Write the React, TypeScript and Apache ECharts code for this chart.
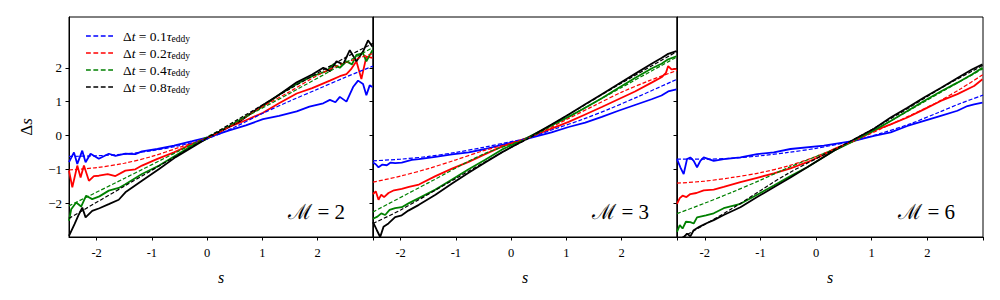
import React, { useEffect, useRef } from "react";
import * as echarts from "echarts";

// ---------- tick values ----------
const X_TICKS = [-2, -1, 0, 1, 2, 3];
const X_LABELS = [-2, -1, 0, 1, 2];
const Y_TICKS = [-2, -1, 0, 1, 2];
const PANEL_LABELS = ["ℳ = 2", "ℳ = 3", "ℳ = 6"];
const DT_NAMES = ["0.1", "0.2", "0.4", "0.8"];
const COLORS = ["#0000ff", "#ff0000", "#008000", "#000000"];

// ---------- panel 1 (M = 2): measured (solid) and theory (dashed) ----------
const m2Blue = [[-2.5,-0.79],[-2.41,-0.5],[-2.35,-0.84],[-2.26,-0.45],[-2.2,-0.79],[-2.11,-0.54],[-1.96,-0.69],[-1.78,-0.54],[-1.66,-0.6],[-1.48,-0.54],[-1.3,-0.55],[-1.18,-0.47],[-0.9,-0.4],[-0.6,-0.3],[-0.27,-0.17],[0.03,-0.05],[0.4,0.15],[0.7,0.3],[1.01,0.48],[1.3,0.58],[1.62,0.71],[1.85,0.85],[2.1,0.95],[2.22,1.05],[2.32,0.98],[2.4,1.14],[2.52,1.0],[2.64,1.43],[2.73,1.62],[2.82,1.52],[2.88,1.19],[2.94,1.48],[2.99,1.43]];
const m2BlueTh = [[-2.5,-0.62],[-2,-0.6],[-1.5,-0.55],[-1,-0.45],[-0.5,-0.3],[0,-0.1],[0.5,0.25],[1,0.65],[1.5,1.02],[2,1.37],[2.5,1.72],[3,2.05]];
const m2Red = [[-2.5,-1.04],[-2.44,-1.53],[-2.35,-0.89],[-2.29,-1.24],[-2.23,-0.89],[-2.14,-1.34],[-2.05,-1.2],[-1.96,-1.19],[-1.8,-1.14],[-1.66,-1.2],[-1.48,-1.04],[-1.3,-1.0],[-1.18,-0.89],[-0.9,-0.69],[-0.6,-0.5],[-0.27,-0.25],[0.03,-0.05],[0.4,0.25],[0.7,0.45],[1.01,0.67],[1.3,0.95],[1.62,1.24],[1.9,1.4],[2.22,1.62],[2.4,1.75],[2.52,1.81],[2.6,1.95],[2.7,2.19],[2.79,1.67],[2.88,2.33],[2.99,2.29]];
const m2RedTh = [[-2.5,-1.02],[-2,-0.95],[-1.5,-0.82],[-1,-0.62],[-0.5,-0.35],[0,-0.08],[0.5,0.35],[1,0.85],[1.5,1.3],[2,1.78],[2.5,2.15],[3,2.42]];
const m2Green = [[-2.5,-2.52],[-2.46,-2.18],[-2.37,-1.98],[-2.28,-2.1],[-2.19,-1.78],[-2.08,-1.88],[-1.95,-1.8],[-1.78,-1.63],[-1.6,-1.55],[-1.48,-1.44],[-1.18,-1.14],[-0.87,-0.89],[-0.57,-0.59],[-0.27,-0.3],[0.03,-0.07],[0.4,0.27],[0.7,0.57],[1.01,0.86],[1.3,1.2],[1.62,1.52],[1.9,1.75],[2.16,1.9],[2.28,2.1],[2.4,2.0],[2.52,2.19],[2.62,2.1],[2.7,2.38],[2.82,2.43],[2.88,2.19],[2.99,2.52]];
const m2GreenTh = [[-2.5,-2.08],[-1.5,-1.27],[-0.5,-0.45],[0.5,0.38],[1.5,1.25],[2.5,2.15],[3,2.6]];
const m2Black = [[-2.5,-2.97],[-2.4,-2.62],[-2.33,-2.36],[-2.26,-2.13],[-2.2,-2.42],[-2.08,-2.23],[-1.95,-2.15],[-1.78,-2.03],[-1.6,-1.9],[-1.48,-1.68],[-1.18,-1.34],[-0.87,-0.99],[-0.57,-0.64],[-0.27,-0.35],[0.03,-0.05],[0.59,0.42],[1.01,0.9],[1.3,1.2],[1.62,1.57],[1.9,1.8],[2.1,2.0],[2.22,1.9],[2.34,2.19],[2.46,2.1],[2.58,2.52],[2.7,2.19],[2.82,2.48],[2.91,2.81],[2.99,2.62]];
const m2BlackTh = [[-2.5,-2.45],[-1.5,-1.5],[-0.5,-0.55],[0.5,0.42],[1.5,1.38],[2.5,2.3],[3,2.72]];

// ---------- panel 2 (M = 3) ----------
const m3Blue = [[-2.5,-0.8],[-2.45,-0.85],[-2.4,-0.94],[-2.33,-0.86],[-2.25,-0.88],[-2.18,-0.8],[-2.1,-0.82],[-1.98,-0.8],[-1.8,-0.72],[-1.67,-0.7],[-1.37,-0.63],[-1.07,-0.56],[-0.77,-0.5],[-0.47,-0.4],[-0.17,-0.28],[0.28,-0.1],[0.73,0.09],[1.04,0.25],[1.34,0.38],[1.64,0.55],[1.94,0.73],[2.24,0.9],[2.54,1.07],[2.72,1.18],[2.84,1.3],[2.99,1.36]];
const m3BlueTh = [[-2.5,-0.75],[-2,-0.7],[-1.5,-0.62],[-1,-0.5],[-0.5,-0.35],[0,-0.18],[0.3,-0.08],[0.8,0.2],[1.3,0.48],[1.8,0.8],[2.3,1.15],[3,1.66]];
const m3Red = [[-2.5,-1.73],[-2.45,-1.65],[-2.4,-1.9],[-2.35,-1.75],[-2.3,-1.82],[-2.22,-1.7],[-2.12,-1.62],[-1.98,-1.58],[-1.85,-1.52],[-1.67,-1.45],[-1.37,-1.2],[-1.07,-0.98],[-0.77,-0.78],[-0.47,-0.55],[-0.17,-0.33],[0.28,-0.08],[0.73,0.2],[1.04,0.4],[1.34,0.62],[1.64,0.84],[1.94,1.07],[2.24,1.3],[2.54,1.56],[2.72,1.72],[2.8,1.85],[2.84,2.05],[2.9,1.95],[2.99,1.97]];
const m3RedTh = [[-2.5,-1.38],[-2,-1.2],[-1.5,-0.98],[-1,-0.72],[-0.5,-0.45],[0.3,-0.08],[1,0.47],[1.5,0.88],[2,1.28],[2.5,1.62],[3,1.92]];
const m3Green = [[-2.5,-2.46],[-2.42,-2.4],[-2.35,-2.3],[-2.28,-2.35],[-2.2,-2.2],[-2.1,-2.15],[-1.98,-2.12],[-1.85,-2.0],[-1.67,-1.85],[-1.37,-1.6],[-1.07,-1.3],[-0.77,-1.0],[-0.47,-0.72],[-0.17,-0.42],[0.28,-0.08],[0.73,0.3],[1.04,0.55],[1.34,0.82],[1.64,1.1],[1.94,1.4],[2.24,1.7],[2.54,1.98],[2.72,2.12],[2.84,2.25],[2.99,2.34]];
const m3GreenTh = [[-2.5,-2.26],[-1.5,-1.4],[-0.5,-0.55],[0.3,-0.08],[1,0.52],[2,1.42],[3,2.32]];
const m3Black = [[-2.5,-2.56],[-2.43,-2.8],[-2.37,-3.0],[-2.31,-2.7],[-2.22,-2.6],[-2.1,-2.41],[-1.98,-2.36],[-1.86,-2.22],[-1.67,-2.05],[-1.37,-1.75],[-1.07,-1.42],[-0.77,-1.1],[-0.47,-0.8],[-0.17,-0.5],[0.28,-0.1],[0.73,0.32],[1.04,0.62],[1.34,0.92],[1.64,1.22],[1.94,1.52],[2.24,1.82],[2.54,2.12],[2.72,2.29],[2.84,2.41],[2.99,2.49]];
const m3BlackTh = [[-2.5,-2.6],[-2,-2.2],[-1,-1.27],[0,-0.35],[0.3,-0.1],[1,0.58],[2,1.55],[3,2.48]];

// ---------- panel 3 (M = 6) ----------
const m6Blue = [[-2.5,-0.7],[-2.44,-0.94],[-2.38,-1.14],[-2.32,-0.7],[-2.26,-0.65],[-2.2,-0.75],[-2.14,-0.94],[-2.08,-0.75],[-2.02,-0.65],[-1.84,-0.75],[-1.66,-0.7],[-1.36,-0.65],[-1.06,-0.55],[-0.76,-0.5],[-0.46,-0.4],[0.14,-0.3],[0.68,-0.16],[1.04,-0.01],[1.34,0.09],[1.64,0.28],[1.94,0.43],[2.24,0.58],[2.54,0.73],[2.72,0.87],[2.84,0.92],[2.99,0.97]];
const m6BlueTh = [[-2.5,-0.7],[-2,-0.7],[-1.5,-0.67],[-1,-0.6],[-0.5,-0.5],[0,-0.38],[0.7,-0.15],[1.2,0.08],[1.7,0.35],[2.2,0.68],[2.6,0.95],[3,1.19]];
const m6Red = [[-2.5,-2.02],[-2.45,-1.85],[-2.4,-1.78],[-2.33,-1.82],[-2.26,-1.73],[-2.15,-1.7],[-2.02,-1.62],[-1.84,-1.6],[-1.66,-1.52],[-1.36,-1.38],[-1.06,-1.25],[-0.76,-1.12],[-0.46,-0.97],[-0.16,-0.79],[0.1,-0.6],[0.32,-0.4],[0.68,-0.16],[1.04,0.14],[1.34,0.33],[1.64,0.53],[1.94,0.77],[2.24,1.02],[2.54,1.22],[2.84,1.46],[2.99,1.66]];
const m6RedTh = [[-2.5,-1.41],[-2,-1.35],[-1.5,-1.24],[-1,-1.1],[-0.5,-0.9],[0,-0.62],[0.7,-0.15],[1.2,0.22],[1.7,0.6],[2.2,1.0],[2.6,1.38],[3,1.8]];
const m6Green = [[-2.5,-2.85],[-2.45,-2.65],[-2.4,-2.75],[-2.34,-2.55],[-2.26,-2.56],[-2.2,-2.6],[-2.14,-2.42],[-1.98,-2.36],[-1.84,-2.3],[-1.66,-2.15],[-1.36,-2.02],[-1.06,-1.75],[-0.76,-1.48],[-0.46,-1.2],[-0.16,-0.94],[0.32,-0.45],[0.68,-0.16],[1.04,0.15],[1.34,0.43],[1.64,0.72],[1.94,1.02],[2.24,1.3],[2.54,1.56],[2.8,1.8],[2.99,2.0]];
const m6GreenTh = [[-2.5,-2.31],[-2,-2.0],[-1.5,-1.67],[-1,-1.32],[-0.5,-0.95],[0,-0.62],[0.7,-0.15],[1.5,0.58],[2.3,1.33],[3,1.97]];
const m6Black = [[-2.5,-3.25],[-2.4,-3.05],[-2.32,-2.9],[-2.26,-2.98],[-2.2,-2.8],[-2.1,-2.7],[-1.98,-2.6],[-1.84,-2.5],[-1.66,-2.35],[-1.36,-2.12],[-1.06,-1.82],[-0.76,-1.53],[-0.46,-1.24],[-0.16,-0.94],[0.32,-0.45],[0.68,-0.12],[1.04,0.2],[1.34,0.53],[1.64,0.82],[1.94,1.12],[2.24,1.4],[2.54,1.7],[2.8,1.95],[2.99,2.1]];
const m6BlackTh = [[-2.5,-3.1],[-1.5,-2.15],[-0.5,-1.12],[0.7,-0.1],[1.5,0.65],[2.3,1.45],[3,2.07]];

const MEASURED = [
  [m2Blue, m2Red, m2Green, m2Black],
  [m3Blue, m3Red, m3Green, m3Black],
  [m6Blue, m6Red, m6Green, m6Black],
];
const THEORY = [
  [m2BlueTh, m2RedTh, m2GreenTh, m2BlackTh],
  [m3BlueTh, m3RedTh, m3GreenTh, m3BlackTh],
  [m6BlueTh, m6RedTh, m6GreenTh, m6BlackTh],
];

const FONT = "'Liberation Serif', 'DejaVu Serif', serif";
const DASH_ICON = "path://M0,0H5V1.3H0ZM7.7,0H12.7V1.3H7.7ZM15.4,0H20.4V1.3H15.4ZM23.1,0H28.1V1.3H23.1Z";

export default function App() {
  const ref = useRef<HTMLDivElement>(null);
  useEffect(() => {
    if (!ref.current) return;
    const chart = echarts.init(ref.current, undefined, { renderer: "svg" });
    const lefts = [69, 373, 677];
    const widths = [304, 304, 306];
    const grids = lefts.map((l, i) => ({
      left: l,
      top: 17,
      width: widths[i],
      height: 220,
      show: true,
      borderColor: "#000",
      borderWidth: 1,
      backgroundColor: "transparent",
    }));
    const xAxes = lefts.map((_, i) => ({
      type: "value",
      gridIndex: i,
      min: -2.5,
      max: 3,
      axisLine: { show: true, onZero: false, lineStyle: { color: "#000", width: 1 } },
      axisTick: {
        show: true,
        inside: false,
        length: 3.5,
        customValues: X_TICKS,
        lineStyle: { color: "#000", width: 1 },
      },
      axisLabel: {
        show: true,
        customValues: X_LABELS,
        formatter: (v: number) => String(v),
        fontFamily: FONT,
        fontSize: 12.5,
        color: "#000",
        margin: 9,
      },
      splitLine: { show: false },
      name: "s",
      nameLocation: "middle",
      nameGap: 32,
      nameTextStyle: { fontFamily: FONT, fontStyle: "italic", fontSize: 16, color: "#000" },
    }));
    const yAxes = lefts.map((_, i) => ({
      type: "value",
      gridIndex: i,
      min: -3,
      max: 3.5,
      axisLine: { show: true, onZero: false, lineStyle: { color: "#000", width: 1 } },
      axisTick: {
        show: true,
        inside: false,
        length: 3.5,
        customValues: Y_TICKS,
        lineStyle: { color: "#000", width: 1 },
      },
      axisLabel: {
        show: i === 0,
        customValues: Y_TICKS,
        formatter: (v: number) => (v < 0 ? "\u2212" + Math.abs(v) : String(v)),
        fontFamily: FONT,
        fontSize: 13,
        color: "#000",
        margin: 7,
      },
      splitLine: { show: false },
      name: i === 0 ? "{r|Δ}{i|s}" : "",
      nameLocation: "middle",
      nameGap: 34,
      nameRotate: 90,
      nameTextStyle: {
        color: "#000",
        rich: {
          r: { fontFamily: FONT, fontSize: 17, color: "#000" },
          i: { fontFamily: FONT, fontSize: 17, fontStyle: "italic", color: "#000" },
        },
      },
    }));

    const series: any[] = [];
    for (let p = 0; p < 3; p++) {
      for (let k = 0; k < 4; k++) {
        series.push({
          type: "line",
          name: "meas-" + p + "-" + k,
          xAxisIndex: p,
          yAxisIndex: p,
          data: MEASURED[p][k],
          showSymbol: false,
          symbol: "none",
          clip: true,
          z: 2,
          lineStyle: { color: COLORS[k], width: 1.8 },
          itemStyle: { color: COLORS[k] },
        });
      }
      for (let k = 0; k < 4; k++) {
        series.push({
          type: "line",
          name: DT_NAMES[k],
          xAxisIndex: p,
          yAxisIndex: p,
          data: THEORY[p][k],
          showSymbol: false,
          symbol: "none",
          smooth: 0.3,
          clip: true,
          z: 3,
          lineStyle: { color: COLORS[k], width: 1.2, type: [4, 2] },
          itemStyle: { color: COLORS[k] },
        });
      }
    }

    const graphics = PANEL_LABELS.map((t, i) => ({
      type: "text",
      x: lefts[i] + widths[i] - 28,
      y: 212,
      style: {
        text: t,
        fontFamily: FONT,
        fontSize: 21,
        fill: "#000",
        align: "right",
        verticalAlign: "middle",
      },
      z: 10,
    }));

    chart.setOption({
      animation: false,
      backgroundColor: "#fff",
      grid: grids,
      xAxis: xAxes,
      yAxis: yAxes,
      legend: {
        data: DT_NAMES.map((n) => ({ name: n, icon: DASH_ICON })),
        orient: "vertical",
        left: 81,
        top: 24,
        itemWidth: 27,
        itemHeight: 1.3,
        itemGap: 2,
        symbolKeepAspect: false,
        formatter: (n: string) => "{g|}{r|Δ}{i|t}{r| = " + n + "}{i|τ}{s|eddy}",
        textStyle: {
          fontFamily: FONT,
          fontSize: 13,
          color: "#000",
          rich: {
            g: { width: 5 },
            r: { fontFamily: FONT, fontSize: 13.5, color: "#000" },
            i: { fontFamily: FONT, fontSize: 13.5, fontStyle: "italic", color: "#000" },
            s: { fontFamily: FONT, fontSize: 9.5, color: "#000", padding: [6, 0, 0, 0] },
          },
        },
      },
      graphic: graphics,
      series,
    });
    return () => chart.dispose();
  }, []);
  return (
    <div
      ref={ref}
      style={{ position: "absolute", left: 0, top: 0, width: 1000, height: 300 }}
    />
  );
}
